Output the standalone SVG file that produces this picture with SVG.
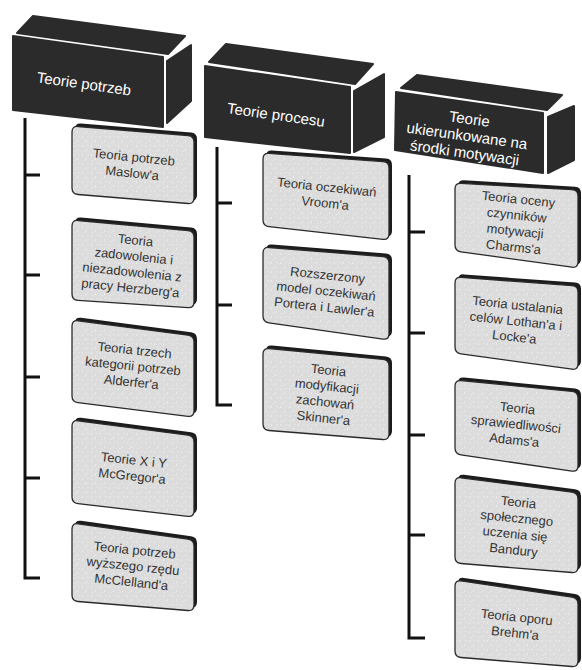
<svg xmlns="http://www.w3.org/2000/svg" width="582" height="670" viewBox="0 0 582 670">
<defs>
<pattern id="dots" width="9" height="9" patternUnits="userSpaceOnUse">
<rect width="9" height="9" fill="#dcdcdc"/>
<circle cx="1.5" cy="2" r="0.6" fill="#fff"/>
<circle cx="5.5" cy="6" r="0.6" fill="#fff"/>
<circle cx="7" cy="1.5" r="0.5" fill="#f2f2f2"/>
<circle cx="3" cy="7.5" r="0.5" fill="#f2f2f2"/>
</pattern>
</defs>
<style>
.sh{fill:#1c1c1c}
.box{fill:url(#dots);stroke:#2a2a2a;stroke-width:1.3}
.hd{fill:#2b2b2b;stroke:#2b2b2b;stroke-width:2;stroke-linejoin:round}
.ht{fill:#fff;font-family:"Liberation Sans",Arial,sans-serif;font-size:15px;text-anchor:middle}
.ct{fill:#333;font-family:"Liberation Sans",Arial,sans-serif;font-size:13px;text-anchor:middle}
.ln{stroke:#111;stroke-width:3;fill:none}
</style>
<rect width="582" height="670" fill="#fff"/>

<g id="connectors">
<path class="ln" d="M25,118 V578 H40 M25,175 H40 M25,275 H40 M25,377 H40 M25,478 H40"/>
<path class="ln" d="M217,147 V405 H232 M217,203 H232 M217,305 H232"/>
<path class="ln" d="M409,175 V638 H425 M409,232 H425 M409,333 H425 M409,435 H425 M409,535 H425"/>
</g>

<g id="h1">
<polygon class="hd" points="13,36 163,57 163,127 13,110"/>
<polygon class="hd" points="17,33 33,16 185,36 168,54"/>
<polygon class="hd" points="167,61 191,45 191,101 167,123"/>
<text class="ht" transform="rotate(8 84 84)" x="84" y="89">Teorie potrzeb</text>
</g>
<g id="h2">
<polygon class="hd" points="205,66 350,87 350,153 205,137"/>
<polygon class="hd" points="209,62 226,44 373,64 355,84"/>
<polygon class="hd" points="354,91 384,74 384,137 354,152"/>
<text class="ht" transform="rotate(8 276 115)" x="276" y="120">Teorie procesu</text>
</g>
<g id="h3">
<polygon class="hd" points="396,92 543,113 543,173 395,150"/>
<polygon class="hd" points="401,88 417,75 562,95 547,110"/>
<polygon class="hd" points="548,117 574,106 574,160 548,173"/>
<text class="ht" transform="rotate(8 467 136)" x="467" y="124"><tspan x="467">Teorie</tspan><tspan x="467" dy="17">ukierunkowane na</tspan><tspan x="467" dy="17">środki motywacji</tspan></text>
</g>

<g id="c1_1">
<path class="sh" transform="translate(3,-3)" d="M72,132 Q72,126 78,126.5 L188,135.5 Q194,136 194,142 L194,198 Q194,204 188,203.5 L78,194.5 Q72,194 72,188 Z"/>
<path class="box" d="M72,132 Q72,126 78,126.5 L188,135.5 Q194,136 194,142 L194,198 Q194,204 188,203.5 L78,194.5 Q72,194 72,188 Z"/>
<text class="ct" transform="rotate(6 133 165)" y="161.5"><tspan x="133">Teoria potrzeb</tspan><tspan x="133" dy="16">Maslow'a</tspan></text>
</g>
<g id="c1_2">
<path class="sh" transform="translate(3,-3)" d="M72,226 Q72,220 78,220.5 L188,230.5 Q194,231 194,237 L194,302 Q194,308 188,307.6 L78,300.4 Q72,300 72,294 Z"/>
<path class="box" d="M72,226 Q72,220 78,220.5 L188,230.5 Q194,231 194,237 L194,302 Q194,308 188,307.6 L78,300.4 Q72,300 72,294 Z"/>
<text class="ct" transform="rotate(6 133 264)" y="244.5"><tspan x="133">Teoria</tspan><tspan x="133" dy="16">zadowolenia i</tspan><tspan x="133" dy="16">niezadowolenia z</tspan><tspan x="133" dy="16">pracy Herzberg'a</tspan></text>
</g>
<g id="c1_3">
<path class="sh" transform="translate(3,-3)" d="M72,326 Q72,320 78,320.8 L188,335.2 Q194,336 194,342 L194,411 Q194,417 188,416.3 L78,402.7 Q72,402 72,396 Z"/>
<path class="box" d="M72,326 Q72,320 78,320.8 L188,335.2 Q194,336 194,342 L194,411 Q194,417 188,416.3 L78,402.7 Q72,402 72,396 Z"/>
<text class="ct" transform="rotate(6 133 366)" y="354.5"><tspan x="133">Teoria trzech</tspan><tspan x="133" dy="16">kategorii potrzeb</tspan><tspan x="133" dy="16">Alderfer'a</tspan></text>
</g>
<g id="c1_4">
<path class="sh" transform="translate(3,-3)" d="M72,426 Q72,420 78,420.8 L188,435.2 Q194,436 194,442 L194,511 Q194,517 188,516.3 L78,503.7 Q72,503 72,497 Z"/>
<path class="box" d="M72,426 Q72,420 78,420.8 L188,435.2 Q194,436 194,442 L194,511 Q194,517 188,516.3 L78,503.7 Q72,503 72,497 Z"/>
<text class="ct" transform="rotate(6 133 468)" y="464.5"><tspan x="133">Teorie X i Y</tspan><tspan x="133" dy="16">McGregor'a</tspan></text>
</g>
<g id="c1_5">
<path class="sh" transform="translate(3,-3)" d="M72,529 Q72,523 78,523.8 L188,539.2 Q194,540 194,546 L194,605 Q194,611 188,610.5 L78,601.5 Q72,601 72,595 Z"/>
<path class="box" d="M72,529 Q72,523 78,523.8 L188,539.2 Q194,540 194,546 L194,605 Q194,611 188,610.5 L78,601.5 Q72,601 72,595 Z"/>
<text class="ct" transform="rotate(6 133 566)" y="554.5"><tspan x="133">Teoria potrzeb</tspan><tspan x="133" dy="16">wyższego rzędu</tspan><tspan x="133" dy="16">McClelland'a</tspan></text>
</g>

<g id="c2_1">
<path class="sh" transform="translate(3,-3)" d="M263,159 Q263,153 269,153.4 L383,161.6 Q389,162 389,168 L389,234 Q389,240 383,239.3 L269,226.7 Q263,226 263,220 Z"/>
<path class="box" d="M263,159 Q263,153 269,153.4 L383,161.6 Q389,162 389,168 L389,234 Q389,240 383,239.3 L269,226.7 Q263,226 263,220 Z"/>
<text class="ct" transform="rotate(6 326 195)" y="191.5"><tspan x="326">Teoria oczekiwań</tspan><tspan x="326" dy="16">Vroom'a</tspan></text>
</g>
<g id="c2_2">
<path class="sh" transform="translate(3,-3)" d="M263,253 Q263,247 269,247.5 L383,256.5 Q389,257 389,263 L389,334 Q389,340 383,339.1 L269,322.9 Q263,322 263,316 Z"/>
<path class="box" d="M263,253 Q263,247 269,247.5 L383,256.5 Q389,257 389,263 L389,334 Q389,340 383,339.1 L269,322.9 Q263,322 263,316 Z"/>
<text class="ct" transform="rotate(6 326 291)" y="279.5"><tspan x="326">Rozszerzony</tspan><tspan x="326" dy="16">model oczekiwań</tspan><tspan x="326" dy="16">Portera i Lawler'a</tspan></text>
</g>
<g id="c2_3">
<path class="sh" transform="translate(3,-3)" d="M263,354 Q263,348 269,348.6 L383,359.4 Q389,360 389,366 L389,434 Q389,440 383,439.5 L269,430.5 Q263,430 263,424 Z"/>
<path class="box" d="M263,354 Q263,348 269,348.6 L383,359.4 Q389,360 389,366 L389,434 Q389,440 383,439.5 L269,430.5 Q263,430 263,424 Z"/>
<text class="ct" transform="rotate(6 326 394)" y="374.5"><tspan x="326">Teoria</tspan><tspan x="326" dy="16">modyfikacji</tspan><tspan x="326" dy="16">zachowań</tspan><tspan x="326" dy="16">Skinner'a</tspan></text>
</g>

<g id="c3_1">
<path class="sh" transform="translate(3,-3)" d="M455,189 Q455,183 461,183.3 L572,189.7 Q578,190 578,196 L578,262 Q578,268 572,267.2 L461,251.8 Q455,251 455,245 Z"/>
<path class="box" d="M455,189 Q455,183 461,183.3 L572,189.7 Q578,190 578,196 L578,262 Q578,268 572,267.2 L461,251.8 Q455,251 455,245 Z"/>
<text class="ct" transform="rotate(6 516 223)" y="203.5"><tspan x="516">Teoria oceny</tspan><tspan x="516" dy="16">czynników</tspan><tspan x="516" dy="16">motywacji</tspan><tspan x="516" dy="16">Charms'a</tspan></text>
</g>
<g id="c3_2">
<path class="sh" transform="translate(3,-3)" d="M455,283 Q455,277 461,277.4 L572,285.6 Q578,286 578,292 L578,364 Q578,370 572,369.2 L461,353.8 Q455,353 455,347 Z"/>
<path class="box" d="M455,283 Q455,277 461,277.4 L572,285.6 Q578,286 578,292 L578,364 Q578,370 572,369.2 L461,353.8 Q455,353 455,347 Z"/>
<text class="ct" transform="rotate(6 516 321)" y="309.5"><tspan x="516">Teoria ustalania</tspan><tspan x="516" dy="16">celów Lothan'a i</tspan><tspan x="516" dy="16">Locke'a</tspan></text>
</g>
<g id="c3_3">
<path class="sh" transform="translate(3,-3)" d="M455,386 Q455,380 461,380.6 L572,391.4 Q578,392 578,398 L578,466 Q578,472 572,471.1 L461,454.9 Q455,454 455,448 Z"/>
<path class="box" d="M455,386 Q455,380 461,380.6 L572,391.4 Q578,392 578,398 L578,466 Q578,472 572,471.1 L461,454.9 Q455,454 455,448 Z"/>
<text class="ct" transform="rotate(6 516 424)" y="412.5"><tspan x="516">Teoria</tspan><tspan x="516" dy="16">sprawiedliwości</tspan><tspan x="516" dy="16">Adams'a</tspan></text>
</g>
<g id="c3_4">
<path class="sh" transform="translate(3,-3)" d="M455,483 Q455,477 461,477.8 L572,492.2 Q578,493 578,499 L578,567 Q578,573 572,572.5 L461,563.5 Q455,563 455,557 Z"/>
<path class="box" d="M455,483 Q455,477 461,477.8 L572,492.2 Q578,493 578,499 L578,567 Q578,573 572,572.5 L461,563.5 Q455,563 455,557 Z"/>
<text class="ct" transform="rotate(6 516 526)" y="506.5"><tspan x="516">Teoria</tspan><tspan x="516" dy="16">społecznego</tspan><tspan x="516" dy="16">uczenia się</tspan><tspan x="516" dy="16">Bandury</tspan></text>
</g>
<g id="c3_5">
<path class="sh" transform="translate(3,-3)" d="M455,586 Q455,580 461,580.9 L572,597.1 Q578,598 578,604 L578,661 Q578,667 572,666.5 L461,657.5 Q455,657 455,651 Z"/>
<path class="box" d="M455,586 Q455,580 461,580.9 L572,597.1 Q578,598 578,604 L578,661 Q578,667 572,666.5 L461,657.5 Q455,657 455,651 Z"/>
<text class="ct" transform="rotate(6 516 625)" y="621.5"><tspan x="516">Teoria oporu</tspan><tspan x="516" dy="16">Brehm'a</tspan></text>
</g>
</svg>
